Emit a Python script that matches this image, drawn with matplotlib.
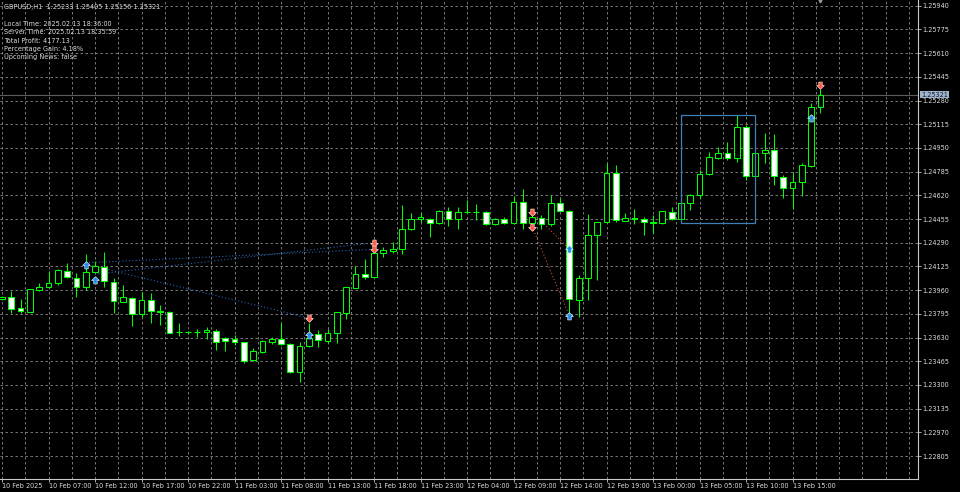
import numpy as np
import matplotlib
matplotlib.use("Agg")
import matplotlib.pyplot as plt
from matplotlib.patches import Rectangle
from matplotlib.path import Path
import matplotlib.transforms as mtrans

# GBPUSD H1 bars, 10 Feb 02:00 .. 13 Feb 18:00
opens = [1.23896, 1.23914, 1.23833, 1.23810, 1.23963, 1.23980, 1.24007, 1.24095, 1.24042, 1.23980,
         1.24088, 1.24123, 1.24019, 1.23879, 1.23907, 1.23794, 1.23891, 1.23815, 1.23806, 1.23668,
         1.23666, 1.23668, 1.23666, 1.23677, 1.23624, 1.23617, 1.23597, 1.23473, 1.23531, 1.23601,
         1.23617, 1.23583, 1.23392, 1.23573, 1.23652, 1.23608, 1.23659, 1.23803, 1.23977, 1.24072,
         1.24053, 1.24216, 1.24234, 1.24246, 1.24383, 1.24453, 1.24453, 1.24425, 1.24513, 1.24453,
         1.24507, 1.24506, 1.24506, 1.24418, 1.24453, 1.24425, 1.24571, 1.24425, 1.24465, 1.24418,
         1.24564, 1.24513, 1.23891, 1.24042, 1.24344, 1.24432, 1.24777, 1.24443, 1.24459, 1.24453,
         1.24436, 1.24425, 1.24506, 1.24453, 1.24564, 1.24622, 1.24768, 1.24878, 1.24912, 1.24878,
         1.25093, 1.24756, 1.24917, 1.24935, 1.24750, 1.24669, 1.24711, 1.24826, 1.25233]
highs = [1.23919, 1.23956, 1.23896, 1.23968, 1.24007, 1.24093, 1.24105, 1.24147, 1.24077, 1.24209,
         1.24165, 1.24223, 1.24042, 1.23996, 1.23912, 1.23949, 1.23938, 1.23856, 1.23815, 1.23729,
         1.23677, 1.23687, 1.23701, 1.23687, 1.23631, 1.23647, 1.23601, 1.23555, 1.23613, 1.23636,
         1.23729, 1.23590, 1.23601, 1.23729, 1.23682, 1.23687, 1.23810, 1.23984, 1.24128, 1.24174,
         1.24227, 1.24262, 1.24297, 1.24553, 1.24495, 1.24495, 1.24460, 1.24518, 1.24536, 1.24536,
         1.24587, 1.24559, 1.24511, 1.24459, 1.24471, 1.24615, 1.24662, 1.24483, 1.24483, 1.24622,
         1.24599, 1.24518, 1.24065, 1.24492, 1.24434, 1.24843, 1.24831, 1.24495, 1.24523, 1.24471,
         1.24483, 1.24511, 1.24541, 1.24573, 1.24629, 1.24796, 1.24924, 1.24954, 1.24993, 1.25179,
         1.25109, 1.24918, 1.25056, 1.25047, 1.24761, 1.24777, 1.24843, 1.25265, 1.25360]
lows = [1.23891, 1.23799, 1.23803, 1.23808, 1.23956, 1.23973, 1.23996, 1.24042, 1.23914, 1.23961,
        1.24083, 1.23984, 1.23799, 1.23874, 1.23712, 1.23775, 1.23733, 1.23717, 1.23659, 1.23643,
        1.23654, 1.23631, 1.23617, 1.23543, 1.23536, 1.23578, 1.23450, 1.23466, 1.23524, 1.23585,
        1.23578, 1.23385, 1.23322, 1.23567, 1.23566, 1.23594, 1.23594, 1.23757, 1.23975, 1.24035,
        1.24051, 1.24188, 1.24216, 1.24211, 1.24378, 1.24436, 1.24328, 1.24420, 1.24406, 1.24383,
        1.24497, 1.24448, 1.24413, 1.24413, 1.24420, 1.24420, 1.24383, 1.24406, 1.24383, 1.24406,
        1.24511, 1.23794, 1.23775, 1.23891, 1.24030, 1.24427, 1.24436, 1.24438, 1.24420, 1.24344,
        1.24355, 1.24420, 1.24448, 1.24448, 1.24518, 1.24599, 1.24761, 1.24871, 1.24866, 1.24854,
        1.24727, 1.24754, 1.24847, 1.24692, 1.24599, 1.24523, 1.24615, 1.24819, 1.25196]
closes = [1.23914, 1.23831, 1.23815, 1.23966, 1.23980, 1.24007, 1.24100, 1.24049, 1.23980, 1.24088,
          1.24128, 1.24023, 1.23884, 1.23910, 1.23794, 1.23891, 1.23815, 1.23808, 1.23663, 1.23666,
          1.23666, 1.23666, 1.23682, 1.23601, 1.23608, 1.23597, 1.23469, 1.23536, 1.23606, 1.23620,
          1.23583, 1.23392, 1.23573, 1.23629, 1.23611, 1.23659, 1.23806, 1.23980, 1.24072, 1.24053,
          1.24216, 1.24239, 1.24246, 1.24383, 1.24453, 1.24467, 1.24425, 1.24513, 1.24455, 1.24502,
          1.24506, 1.24507, 1.24418, 1.24453, 1.24425, 1.24571, 1.24425, 1.24467, 1.24420, 1.24564,
          1.24513, 1.23895, 1.24042, 1.24344, 1.24431, 1.24777, 1.24445, 1.24460, 1.24455, 1.24436,
          1.24427, 1.24511, 1.24455, 1.24566, 1.24622, 1.24768, 1.24885, 1.24912, 1.24878, 1.25093,
          1.24756, 1.24917, 1.24935, 1.24754, 1.24669, 1.24711, 1.24831, 1.25233, 1.25321]

time_labels = ["10 Feb 2025", "10 Feb 07:00", "10 Feb 12:00", "10 Feb 17:00", "10 Feb 22:00",
               "11 Feb 03:00", "11 Feb 08:00", "11 Feb 13:00", "11 Feb 18:00", "11 Feb 23:00",
               "12 Feb 04:00", "12 Feb 09:00", "12 Feb 14:00", "12 Feb 19:00", "13 Feb 00:00",
               "13 Feb 05:00", "13 Feb 10:00", "13 Feb 15:00"]
price_levels = [1.22805 + 0.00165 * k for k in range(20)]

# trade arrows (bar, price)
buy_bars = [9, 10, 33, 61, 61, 87]
buy_prices = [1.24135, 1.24030, 1.23647, 1.24246, 1.23782, 1.25160]
sell_bars = [33, 40, 40, 57, 57, 88]
sell_prices = [1.23766, 1.24290, 1.24244, 1.24502, 1.24401, 1.25388]

# dotted trade lines: (bar0, price0, bar1, price1)
buy_lines = [(9, 1.24150, 40, 1.24244), (10, 1.24070, 40, 1.24290), (9, 1.24140, 33, 1.23766)]
sell_lines = [(57, 1.24502, 61, 1.24246), (57, 1.24401, 61, 1.23782)]

box = (72.98, 1.24425, 81.0, 1.25179)
bid = 1.25321

info_lines = ["GBPUSD,H1  1.25233 1.25405 1.25156 1.25321", "",
              "Local Time: 2025.02.13 18:36:00",
              "Server Time: 2025.02.13 18:35:59",
              "Total Profit: 4177.13",
              "Percentage Gain: 4.18%",
              "Upcoming News: false"]

FS = 4.7
TXT = "#dcdcdc"
GREEN = "#00ff00"

fig = plt.figure(figsize=(9.6, 4.92), dpi=100, facecolor="black")
ax = fig.add_axes([0, 13 / 492, 918 / 960, 479 / 492], facecolor="black")

# grid
for xv in np.arange(0, 99, 2.5):
    ax.axvline(xv, color="#8a8a8a", lw=0.6, ls=(0, (3, 3)), zorder=0)
for yv in price_levels:
    ax.axhline(yv, color="#8a8a8a", lw=0.6, ls=(0, (3, 3)), zorder=0)

# current bid line
ax.axhline(bid, color="#5c5c5c", lw=0.8, zorder=1)

# candles
w = 0.62
for i in range(len(opens)):
    o, h, l, c = opens[i], highs[i], lows[i], closes[i]
    ax.vlines(i, l, h, color=GREEN, lw=0.75, zorder=2)
    fc = "black" if c >= o else "white"
    ax.add_patch(Rectangle((i - w / 2, min(o, c)), w, abs(c - o), facecolor=fc,
                           edgecolor=GREEN, lw=0.75, zorder=3))

# trade lines
for b0, p0, b1, p1 in buy_lines:
    ax.plot([b0, b1], [p0, p1], color="#2a64b0", lw=0.8, ls=(0, (1, 2)), zorder=2)
for b0, p0, b1, p1 in sell_lines:
    ax.plot([b0, b1], [p0, p1], color="#c8503c", lw=0.8, ls=(0, (1, 2)), zorder=2)

# arrows
up = Path([(-1, 0), (0, 1), (1, 0), (0.45, 0), (0.45, -0.9), (-0.45, -0.9), (-0.45, 0), (-1, 0)],
          [Path.MOVETO] + [Path.LINETO] * 6 + [Path.CLOSEPOLY])
down = Path([(x, -y) for x, y in up.vertices], up.codes)
ax.plot(buy_bars, buy_prices, ls="none", marker=up, ms=5.5, mfc="#1e8ce6", mec="#cfe6ff",
        mew=0.5, zorder=5)
ax.plot(sell_bars, sell_prices, ls="none", marker=down, ms=5.5, mfc="#ff5a48", mec="#ffd6cc",
        mew=0.5, zorder=5)

# rectangle
ax.add_patch(Rectangle((box[0], box[1]), box[2] - box[0], box[3] - box[1], fill=False,
                       edgecolor="#3f7fb8", lw=0.9, zorder=4))

ax.set_xlim(-0.215, 98.49)
ax.set_ylim(1.226449, 1.259797)

# chart shift marker
ax.plot([88], [1.259797], marker="v", ms=3.5, color="#9a9a9a", clip_on=False, zorder=6)

for s in ["left", "top"]:
    ax.spines[s].set_visible(False)
for s in ["right", "bottom"]:
    ax.spines[s].set_color("#c8c8c8")
    ax.spines[s].set_linewidth(0.8)

ax.yaxis.tick_right()
ax.set_yticks(price_levels)
ax.set_yticklabels(["%.5f" % p for p in price_levels])
ax.set_xticks(range(0, 5 * len(time_labels), 5))
ax.set_xticklabels(time_labels, ha="left")
ax.tick_params(colors="#c8c8c8", labelcolor=TXT, labelsize=FS, length=2, width=0.6, pad=1)
ax.tick_params(axis="x", pad=0.8)
for t in ax.get_xticklabels() + ax.get_yticklabels():
    t.set_family("DejaVu Sans")

# bid price tag
tr = mtrans.blended_transform_factory(ax.transAxes, ax.transData)
ax.text(1.0035, bid, "%.5f" % bid, transform=tr, ha="left", va="center", fontsize=FS,
        color="#0c1a33", bbox=dict(facecolor="#9fb4cb", edgecolor="none", pad=0.6), zorder=7,
        clip_on=False)

# info text
ys = [7.3, 15.5, 24, 32.3, 40.7, 48.7, 56.7]
for line, yp in zip(info_lines, ys):
    fig.text(4 / 960, 1 - yp / 492, line, ha="left", va="center", fontsize=FS, color=TXT)

fig.savefig("out.png", dpi=100, facecolor="black")
